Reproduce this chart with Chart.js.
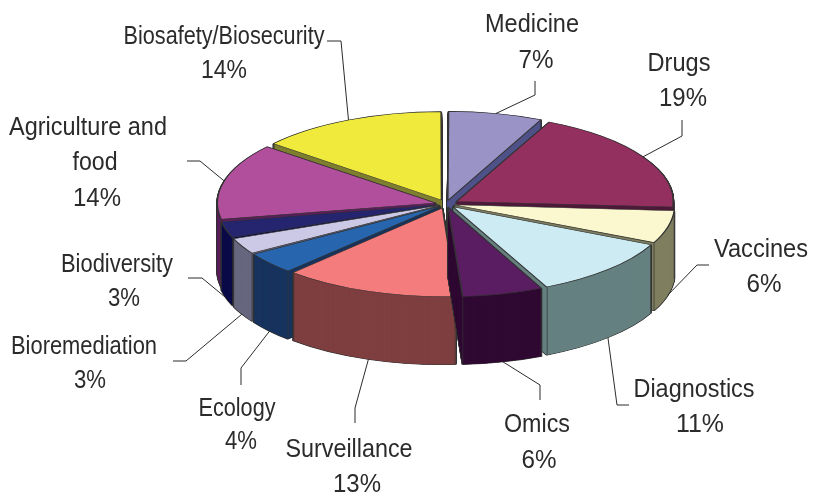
<!DOCTYPE html>
<html>
<head>
<meta charset="utf-8">
<title>Biotechnology application areas</title>
<script src="https://cdn.jsdelivr.net/npm/chart.js@4/dist/chart.umd.min.js"></script>
<style>
    html, body { margin: 0; padding: 0; background: #fff; }
    canvas { display: block; }
</style>
</head>
<body>
<canvas id="pie" width="813" height="494"></canvas>
<script>
// Chart data
const categories = ['Medicine', 'Drugs', 'Vaccines', 'Diagnostics', 'Omics', 'Surveillance',
    'Ecology', 'Bioremediation', 'Biodiversity', ['Agriculture and', 'food'], 'Biosafety/Biosecurity'];
const shares = [7, 19, 6, 11, 6, 13, 4, 3, 3, 14, 14];
const topColors = ['#9A93C6', '#93305F', '#FBF7CF', '#CDEBF2', '#5A1D62', '#F57C7C',
    '#2766AF', '#CBC9E5', '#24246F', '#B24F9C', '#F0EA3C'];
const wallColors = ['#4F5289', '#4E1A3A', '#7F7F60', '#668080', '#300A33', '#7F3F40',
    '#18345F', '#66667F', '#0B0A48', '#5B1F5C', '#7F7F30'];

// Label placement: line centres x and y, fitted line widths, leader line bends
const labelX = [[532, 536], [679, 683], [761, 764], [694, 700], [537, 539], [349, 357],
    [237, 241], [84, 90], [117, 124], [88, 95, 97], [224, 224]];
const labelY = [[25, 61], [64, 99], [250, 285], [390, 425], [425, 461], [450, 485],
    [409, 442], [347, 381], [265, 299], [128, 163, 199], [37, 71]];
const labelW = [[94, 35], [63, 48], [94, 35], [121, 48], [66, 35], [127, 48],
    [77, 32], [146, 32], [112, 32], [158, 45, 48], [201, 46]];
const leaderBends = [
    [[535, 95], [535, 81]],
    [[682, 136], [682, 120]],
    [[697, 265], [709, 265]],
    [[617, 405], [629, 405]],
    [[540, 385], [540, 400]],
    [[355, 408], [355, 423]],
    [[241, 368], [241, 385]],
    [[186, 361], [173, 361]],
    [[202, 278], [188, 278]],
    [[200, 161], [187, 161]],
    [[341, 41], [327, 41]]
];

const SQUASH = 0.405;
const DEPTH = 68;
const EXPLODE = 13;
const EDGE = '#333333';
const INK = '#2b2b2b';

function wallOptions(arc, color, borderWidth) {
    return {
        backgroundColor: color,
        borderColor: EDGE,
        borderWidth: borderWidth,
        borderAlign: 'center',
        borderJoinStyle: 'round',
        borderRadius: 0,
        borderDash: [],
        borderDashOffset: 0,
        offset: arc.options.offset,
        spacing: 0,
        circular: true
    };
}

function midAngle(arc) {
    return (arc.startAngle + arc.endAngle) / 2;
}

// ArcElement pushes narrow slices further out than wide ones, this evens it out
function offsetFor(circumference) {
    return 4 * EXPLODE / (2 - Math.sin(Math.min(Math.PI, circumference)));
}

// Draws one slice copy through the arc element itself, with other colours
function drawCopies(ctx, arc, color, borderWidth) {
    const copy = Object.create(arc);
    copy.options = wallOptions(arc, color, borderWidth);
    for (let d = DEPTH; d > 0; d -= 0.5) {
        ctx.save();
        ctx.translate(0, d / SQUASH);
        copy.draw(ctx);
        ctx.restore();
    }
}

function drawCorners(ctx, arc) {
    const mid = midAngle(arc);
    const ox = arc.x + Math.cos(mid) * EXPLODE;
    const oy = arc.y + Math.sin(mid) * EXPLODE;
    ctx.strokeStyle = EDGE;
    ctx.lineWidth = 1;
    [arc.startAngle, arc.endAngle].forEach(angle => {
        const px = ox + Math.cos(angle) * arc.outerRadius;
        const py = oy + Math.sin(angle) * arc.outerRadius;
        ctx.beginPath();
        ctx.moveTo(px, py);
        ctx.lineTo(px, py + DEPTH / SQUASH);
        ctx.stroke();
    });
}

// Fakes the tilted 3D pie: squash the canvas, stack slices back to front
const tiltedPie = {
    id: 'tiltedPie',
    beforeDatasetsDraw(chart) {
        const ctx = chart.ctx;
        const arcs = chart.getDatasetMeta(0).data;
        const order = arcs.map((arc, i) => i)
            .sort((a, b) => Math.sin(midAngle(arcs[a])) - Math.sin(midAngle(arcs[b])));

        ctx.save();
        ctx.translate(0, arcs[0].y);
        ctx.scale(1, SQUASH);
        ctx.translate(0, -arcs[0].y);
        order.forEach(i => {
            drawCopies(ctx, arcs[i], EDGE, 2);
            drawCopies(ctx, arcs[i], wallColors[i], 0);
            drawCorners(ctx, arcs[i]);
            arcs[i].draw(ctx);
        });
        ctx.restore();
        return false;
    },
    afterDraw(chart) {
        const ctx = chart.ctx;
        const arcs = chart.getDatasetMeta(0).data;
        ctx.save();
        ctx.strokeStyle = INK;
        ctx.fillStyle = INK;
        ctx.lineWidth = 1;
        ctx.textAlign = 'center';
        ctx.textBaseline = 'middle';
        ctx.font = '25px "Liberation Sans", Arial, sans-serif';

        arcs.forEach((arc, i) => {
            // leader starts on the rim at the slice's mid angle
            const mid = midAngle(arc);
            const reach = arc.outerRadius + EXPLODE;
            const sx = arc.x + Math.cos(mid) * reach;
            let sy = arc.y + Math.sin(mid) * reach * SQUASH;
            if (Math.sin(mid) > 0) sy += DEPTH;
            ctx.beginPath();
            ctx.moveTo(sx, sy);
            leaderBends[i].forEach(p => ctx.lineTo(p[0], p[1]));
            ctx.stroke();

            const lines = [].concat(categories[i], shares[i] + '%');
            lines.forEach((text, n) => {
                ctx.fillText(text, labelX[i][n], labelY[i][n], labelW[i][n]);
            });
        });
        ctx.restore();
    }
};

new Chart(document.getElementById('pie'), {
    type: 'pie',
    data: {
        labels: categories,
        datasets: [{
            data: shares,
            backgroundColor: topColors,
            borderColor: EDGE,
            borderWidth: 1.5,
            offset: c => offsetFor(shares[c.dataIndex] / 100 * 2 * Math.PI)
        }]
    },
    options: {
        responsive: false,
        animation: false,
        radius: 216,
        layout: { padding: { left: 79, bottom: 86 } },
        plugins: {
            legend: { display: false },
            tooltip: { enabled: false }
        }
    },
    plugins: [tiltedPie]
});
</script>
</body>
</html>
